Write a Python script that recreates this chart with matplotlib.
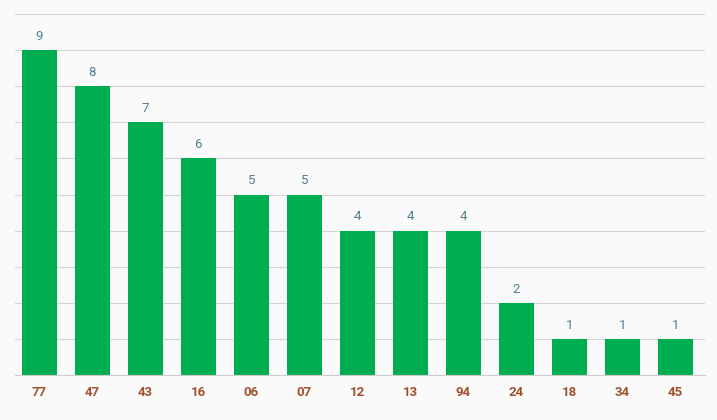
import matplotlib.pyplot as plt

categories = ['77', '47', '43', '16', '06', '07', '12', '13', '94', '24', '18', '34', '45']
counts = [9, 8, 7, 6, 5, 5, 4, 4, 4, 2, 1, 1, 1]

fig = plt.figure(figsize=(7.17, 4.2), dpi=100)
fig.patch.set_facecolor('#fafafa')
ax = fig.add_axes([15 / 717, 45 / 420, 690 / 717, 361 / 420])
ax.set_facecolor('#fafafa')

x = range(len(categories))
bars = ax.bar(x, counts, width=0.66, color='#00ad50', zorder=2)
for b, v in zip(bars, counts):
    ax.text(b.get_x() + b.get_width() / 2, v + 0.2, str(v), ha='center', va='bottom',
            fontsize=9.5, color='#4f7f8f', family='Roboto')

ax.set_xlim(-0.46, 12.56)
ax.set_ylim(0, 10)
ax.set_yticks(range(1, 11))
ax.yaxis.grid(True, color='#d5d5d5', linewidth=0.8, zorder=0)
ax.tick_params(axis='y', left=False, labelleft=False)
ax.tick_params(axis='x', length=0, pad=8)
ax.set_xticks(list(x))
ax.set_xticklabels(categories, fontsize=9.5, fontweight='bold', color='#a0522d', family='Roboto')
for s in ['top', 'right', 'left']:
    ax.spines[s].set_visible(False)
ax.spines['bottom'].set_color('#cccccc')

fig.savefig('out.png', dpi=100, facecolor=fig.get_facecolor())
